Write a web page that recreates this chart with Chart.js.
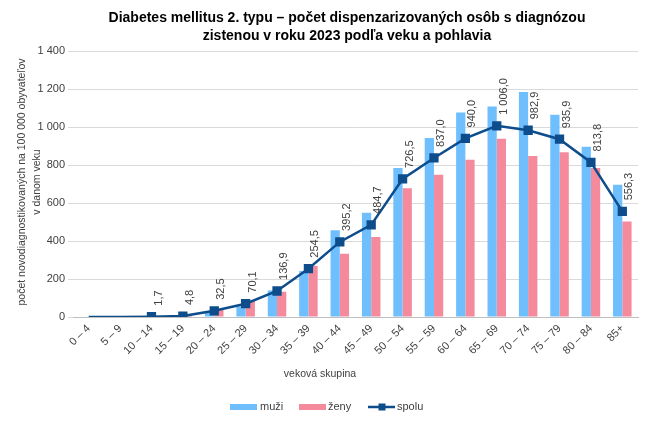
<!DOCTYPE html>
<html>
<head>
<meta charset="utf-8">
<script src="https://cdn.jsdelivr.net/npm/chart.js@4/dist/chart.umd.min.js"></script>
<style>
html,body{margin:0;padding:0;background:#fff;}
#wrap{width:650px;height:426px;position:relative;}
</style>
</head>
<body>
<div id="wrap"><canvas id="c" width="650" height="426"></canvas></div>
<script>
const titleLines = ['Diabetes mellitus 2. typu – počet dispenzarizovaných osôb s diagnózou', 'zistenou v roku 2023 podľa veku a pohlavia'];
const yTitleLines = ['počet novodiagnostikovaných na 100 000 obyvateľov', 'v danom veku'];
const xTitle = 'veková skupina';
const categories = ['0 – 4','5 – 9','10 – 14','15 – 19','20 – 24','25 – 29','30 – 34','35 – 39','40 – 44','45 – 49','50 – 54','55 – 59','60 – 64','65 – 69','70 – 74','75 – 79','80 – 84','85+'];
const muzi  = [0,0,1.5,4.0,28,55,140,242,457,549,784,942,1076,1108,1184,1065,896,696];
const zeny  = [0,0,2.0,5.6,37,85,133,269,333,421,678,749,827,938,848,867,784,503];
const spolu = [0,0,1.7,4.8,32.5,70.1,136.9,254.5,395.2,484.7,726.5,837.0,940.0,1006.0,982.9,935.9,813.8,556.3];
const hiddenPoints = [0,1];
const seriesNames = ['muži','ženy','spolu'];

const BLUE = '#6FBFFF', PINK = '#F48A9C', LINE = '#0E4D8C';
const FONT = '"Liberation Sans", Arial, sans-serif';

function fmt(v, dec){
  let s = v.toFixed(dec);
  let [i, d] = s.split('.');
  i = i.replace(/\B(?=(\d{3})+(?!\d))/g, ' ');
  return d ? i + ',' + d : i;
}

const decor = {
  id: 'decor',
  afterDatasetsDraw(chart){
    const ctx = chart.ctx;
    const meta = chart.getDatasetMeta(2);
    ctx.save();
    ctx.font = '11px ' + FONT;
    ctx.fillStyle = '#404040';
    ctx.textAlign = 'left';
    ctx.textBaseline = 'middle';
    meta.data.forEach((pt, i) => {
      if (hiddenPoints.includes(i)) return;
      ctx.save();
      ctx.translate(pt.x + 7, pt.y - 11);
      ctx.rotate(-Math.PI/2);
      ctx.fillText(fmt(spolu[i], 1), 0, 0);
      ctx.restore();
    });
    ctx.restore();
  },
  afterDraw(chart){
    const ctx = chart.ctx;
    ctx.save();
    // title
    ctx.fillStyle = '#000';
    ctx.font = 'bold 14px ' + FONT;
    ctx.textAlign = 'center';
    ctx.textBaseline = 'middle';
    ctx.fillText(titleLines[0], 347, 18);
    ctx.fillText(titleLines[1], 347, 36);
    // y title
    ctx.font = '10.5px ' + FONT;
    ctx.fillStyle = '#404040';
    ctx.save();
    ctx.translate(22, 182);
    ctx.rotate(-Math.PI/2);
    ctx.fillText(yTitleLines[0], 0, 0);
    ctx.fillText(yTitleLines[1], 0, 15);
    ctx.restore();
    // x title
    ctx.font = '10.5px ' + FONT;
    ctx.fillText(xTitle, 320, 374);
    // legend
    ctx.font = '11px ' + FONT;
    ctx.textAlign = 'left';
    const ly = 407;
    ctx.fillStyle = BLUE; ctx.fillRect(230, ly-3, 27, 6);
    ctx.fillStyle = '#404040'; ctx.fillText(seriesNames[0], 260, ly);
    ctx.fillStyle = PINK; ctx.fillRect(299, ly-3, 27, 6);
    ctx.fillStyle = '#404040'; ctx.fillText(seriesNames[1], 328, ly);
    ctx.strokeStyle = LINE; ctx.lineWidth = 2.5;
    ctx.beginPath(); ctx.moveTo(368, ly); ctx.lineTo(395, ly); ctx.stroke();
    ctx.fillStyle = LINE; ctx.fillRect(382-3.5, ly-3.5, 7, 7);
    ctx.fillStyle = '#404040'; ctx.fillText(seriesNames[2], 397, ly);
    ctx.restore();
  }
};

new Chart(document.getElementById('c'), {
  data: {
    labels: categories,
    datasets: [
      { type:'bar', label: seriesNames[0], data: muzi, backgroundColor: BLUE, order: 2, categoryPercentage: 0.59, barPercentage: 1.0 },
      { type:'bar', label: seriesNames[1], data: zeny, backgroundColor: PINK, order: 2, categoryPercentage: 0.59, barPercentage: 1.0 },
      { type:'line', label: seriesNames[2], data: spolu, borderColor: LINE, backgroundColor: LINE, borderWidth: 2.5,
        pointStyle: 'rect', pointRadius: spolu.map((v,i)=> hiddenPoints.includes(i) ? 0 : 4.8),
        pointBackgroundColor: LINE, pointBorderColor: LINE, tension: 0, order: 0 }
    ]
  },
  options: {
    responsive: false,
    animation: false,
    layout: { padding: { left: 0, right: 12, top: 51, bottom: 0 } },
    plugins: { legend: { display: false }, title: { display: false }, tooltip: { enabled: false } },
    scales: {
      x: {
        grid: { display: false, drawTicks: false },
        border: { display: true, color: '#BFBFBF', width: 1 },
        ticks: { color: '#404040', font: { size: 11, family: FONT }, maxRotation: 45, minRotation: 45, autoSkip: false, padding: 5 },
        afterFit(s){ s.height = 109; }
      },
      y: {
        min: 0, max: 1400,
        ticks: { stepSize: 200, color: '#404040', font: { size: 11, family: FONT }, padding: 3,
          callback: v => fmt(v, 0) },
        grid: { color: '#D9D9D9', lineWidth: 1, tickLength: 5, tickColor: '#D9D9D9' },
        border: { display: false },
        afterFit(s){ s.width = 73; }
      }
    }
  },
  plugins: [decor]
});
</script>
</body>
</html>
